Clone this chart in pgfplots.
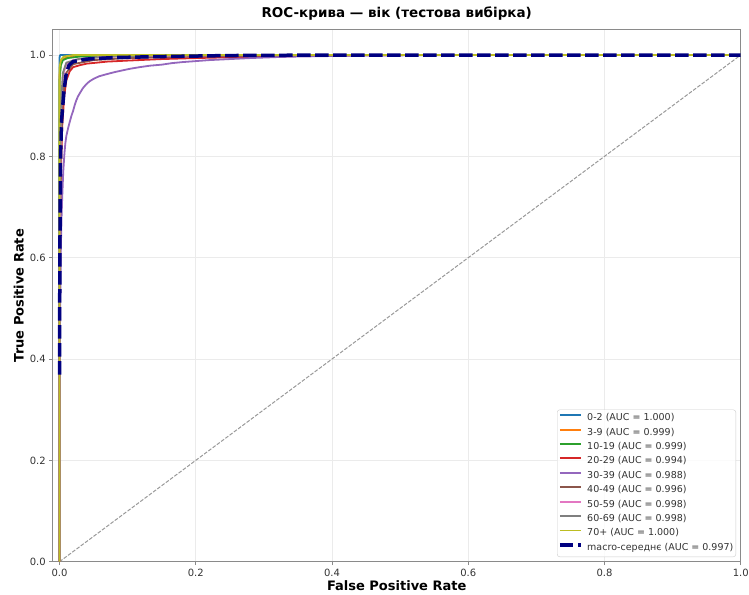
\documentclass[border=0pt]{standalone}
\usepackage{fontspec}
\setmainfont{DejaVu Sans}
\usepackage{pgfplots}
\pgfplotsset{compat=1.18}

% tab10 palette
\definecolor{c0}{HTML}{1F77B4}
\definecolor{c1}{HTML}{FF7F0E}
\definecolor{c2}{HTML}{2CA02C}
\definecolor{c3}{HTML}{D62728}
\definecolor{c4}{HTML}{9467BD}
\definecolor{c5}{HTML}{8C564B}
\definecolor{c6}{HTML}{E377C2}
\definecolor{c7}{HTML}{7F7F7F}
\definecolor{c8}{HTML}{BCBD22}
\definecolor{macro}{HTML}{000080}
\definecolor{spine}{HTML}{8A8A8A}
\definecolor{gridc}{HTML}{EBEBEB}
\definecolor{labc}{HTML}{333333}

\begin{document}
\begin{tikzpicture}
\begin{axis}[
  scale only axis, width=688pt, height=532pt,
  xmin=-0.01, xmax=1.0, ymin=0, ymax=1.05,
  xtick={0,0.2,0.4,0.6,0.8,1.0},
  xticklabels={0.0,0.2,0.4,0.6,0.8,1.0},
  ytick={0,0.2,0.4,0.6,0.8,1.0},
  yticklabels={0.0,0.2,0.4,0.6,0.8,1.0},
  xtick pos=bottom, ytick pos=left,
  tick align=outside, major tick length=3.5pt,
  tick style={spine, line width=0.8pt},
  axis line style={spine, line width=1pt},
  grid=major, major grid style={gridc, line width=0.7pt},
  ticklabel style={font=\fontsize{10}{12}\selectfont, text=labc},
  title={ROC-крива — вік (тестова вибірка)},
  title style={font=\bfseries\fontsize{13.5}{16}\selectfont,
    at={(axis description cs:0.5,1.0118)}, anchor=base},
  xlabel={False Positive Rate},
  xlabel style={font=\bfseries\fontsize{13}{15}\selectfont,
    at={(axis description cs:0.5,-0.0545)}, anchor=base},
  ylabel={True Positive Rate},
  ylabel style={font=\bfseries\fontsize{13}{15}\selectfont,
    at={(axis description cs:-0.0424,0.5)}, anchor=base},
  legend image code/.code={\draw[#1] (0pt,3.3pt) -- (21pt,3.3pt);},
  legend cell align=left,
  legend style={at={(axis description cs:1,0)}, anchor=south east,
    xshift=-4.7pt, yshift=4.7pt,
    draw=black!20, rounded corners=2.5pt, fill=white, fill opacity=0.8,
    text opacity=1, text=labc,
    font=\fontsize{9.5}{11}\selectfont,
    inner xsep=1pt, inner ysep=1.5pt,
    nodes={inner xsep=1.5pt, inner ysep=2.5pt, text height=7pt, text depth=2.4pt},
    /tikz/every odd column/.append style={column sep=3pt}},
  every axis plot/.append style={line width=1.8pt, line join=round},
]

% chance diagonal
\addplot[forget plot, black!40, line width=1pt, dash pattern=on 3.7pt off 1.6pt]
  coordinates {(0,0) (1,1)};

\addplot[c0] coordinates {(0,0) (0,0.995) (0.001,1) (1,1)};
\addlegendentry{0-2 (AUC = 1.000)}

\addplot[c1] coordinates {(0,0) (0,0.96) (0.002,0.985) (0.005,0.992) (0.01,0.995)
  (0.03,0.998) (0.08,1) (1,1)};
\addlegendentry{3-9 (AUC = 0.999)}

\addplot[c2] coordinates {(0,0) (0,0.95) (0.002,0.98) (0.005,0.99) (0.012,0.994)
  (0.03,0.997) (0.1,0.999) (0.2,1) (1,1)};
\addlegendentry{10-19 (AUC = 0.999)}

\addplot[c3] coordinates {(0,0) (0,0.42) (0.001,0.62) (0.002,0.76) (0.004,0.86)
  (0.007,0.92) (0.01,0.95) (0.015,0.968) (0.02,0.976) (0.03,0.98) (0.04,0.983)
  (0.055,0.985) (0.07,0.987) (0.1,0.989) (0.15,0.992) (0.2,0.994) (0.3,0.997)
  (0.4,0.999) (0.5,1) (1,1)};
\addlegendentry{20-29 (AUC = 0.994)}

\addplot[c4] coordinates {(0,0) (0,0.3) (0.001,0.5) (0.002,0.62) (0.003,0.68)
  (0.004,0.72) (0.0055,0.77) (0.0073,0.807) (0.0085,0.825) (0.01,0.84)
  (0.0125,0.855) (0.015,0.868) (0.0175,0.88) (0.02,0.89) (0.0225,0.902)
  (0.0245,0.91) (0.027,0.918) (0.03,0.925) (0.034,0.934) (0.039,0.942)
  (0.044,0.948) (0.05,0.953) (0.058,0.958) (0.0686,0.962) (0.08,0.966)
  (0.09,0.969) (0.104,0.973) (0.1175,0.976) (0.133,0.979) (0.15,0.981)
  (0.165,0.984) (0.18,0.986) (0.2,0.988) (0.22,0.99) (0.25,0.992) (0.28,0.994)
  (0.32,0.996) (0.35,0.997) (0.4,0.998) (0.45,0.999) (0.6,1) (1,1)};
\addlegendentry{30-39 (AUC = 0.988)}

\addplot[c5] coordinates {(0,0) (0,0.5) (0.002,0.8) (0.005,0.92) (0.01,0.965)
  (0.02,0.982) (0.05,0.99) (0.1,0.994) (0.2,0.997) (0.3,0.999) (0.45,1) (1,1)};
\addlegendentry{40-49 (AUC = 0.996)}

\addplot[c6] coordinates {(0,0) (0,0.6) (0.002,0.88) (0.005,0.96) (0.01,0.982)
  (0.02,0.99) (0.05,0.995) (0.1,0.998) (0.2,0.999) (0.3,1) (1,1)};
\addlegendentry{50-59 (AUC = 0.998)}

\addplot[c7] coordinates {(0,0) (0,0.7) (0.002,0.9) (0.005,0.965) (0.01,0.985)
  (0.03,0.993) (0.08,0.997) (0.15,0.999) (0.25,1) (1,1)};
\addlegendentry{60-69 (AUC = 0.998)}

\addplot[c8] coordinates {(0,0) (0,0.975) (0.002,0.99) (0.006,0.997) (0.02,1) (1,1)};
\addlegendentry{70+ (AUC = 1.000)}

\addplot[macro, line width=3.5pt, line join=miter, dash pattern=on 13.5pt off 4.5pt]
  coordinates {(0,0.369) (0.0005,0.6) (0.0015,0.8) (0.003,0.87) (0.0066,0.93)
  (0.01,0.965) (0.014,0.98) (0.02,0.987) (0.04,0.992) (0.08,0.995) (0.15,0.997)
  (0.25,0.999) (0.4,1) (1,1)};
\addlegendentry{macro-середнє (AUC = 0.997)}

\end{axis}
\pgfresetboundingbox
\useasboundingbox (-52.7pt,-32.3pt) rectangle (696.3pt,561.7pt);
\end{tikzpicture}
\end{document}
